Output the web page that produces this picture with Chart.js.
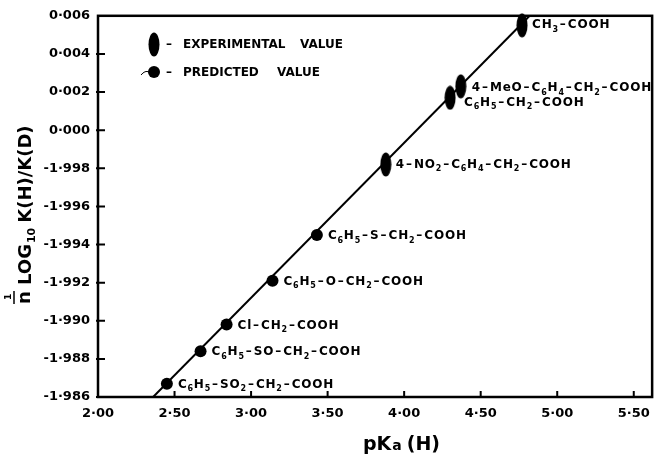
<!DOCTYPE html>
<html>
<head>
<meta charset="utf-8">
<script src="https://cdn.jsdelivr.net/npm/chart.js@4.4.1/dist/chart.umd.min.js"></script>
<style>
  body { margin: 0; background: #fff; }
  canvas { display: block; }
</style>
</head>
<body>
<canvas id="kie-chart" width="659" height="455"></canvas>
<script>
// acids whose ratio was predicted (filled circles)
const predictedAcids = ['C_6H_5-SO_2-CH_2-COOH', 'C_6H_5-SO-CH_2-COOH', 'Cl-CH_2-COOH',
  'C_6H_5-O-CH_2-COOH', 'C_6H_5-S-CH_2-COOH'];
const predictedPKa = [2.45, 2.67, 2.84, 3.14, 3.43];
const predictedLog = [-0.0133, -0.0116, -0.0102, -0.0079, -0.0055];

// acids measured experimentally (tall ellipses)
const experimentalAcids = ['4-NO_2-C_6H_4-CH_2-COOH', 'C_6H_5-CH_2-COOH',
  '4-MeO-C_6H_4-CH_2-COOH', 'CH_3-COOH'];
const experimentalPKa = [3.88, 4.30, 4.37, 4.77];
const experimentalLog = [-0.0018, 0.0017, 0.0023, 0.0055];

// fitted straight line, end points
const fitPKa = [2.36, 4.82];
const fitLog = [-0.014, 0.006];

const xTickValues = [2.0, 2.5, 3.0, 3.5, 4.0, 4.5, 5.0, 5.5];
const xTickLabels = ['2·00', '2·50', '3·00', '3·50', '4·00', '4·50', '5·00', '5·50'];
const yTickValues = [-0.014, -0.012, -0.010, -0.008, -0.006, -0.004, -0.002, 0.000, 0.002, 0.004, 0.006];
const yTickLabels = ['-1·986', '-1·988', '-1·990', '-1·992', '-1·994', '-1·996', '-1·998',
  '0·000', '0·002', '0·004', '0·006'];

const FONT = 'DejaVu Sans';

function makeEllipse(w, h) {
  const c = document.createElement('canvas');
  c.width = w;
  c.height = h;
  const g = c.getContext('2d');
  g.fillStyle = '#000';
  g.beginPath();
  g.ellipse(w / 2, h / 2, w / 2 - 0.5, h / 2 - 0.5, 0, 0, Math.PI * 2);
  g.fill();
  return c;
}
const ellipseImg = makeEllipse(12, 25);

// draws "C_6H_5-..." with subscripts, '-' as a spaced dash
function drawFormula(ctx, str, x, y, size) {
  let cx = x;
  for (let i = 0; i < str.length; i++) {
    let ch = str[i];
    let sub = false;
    if (ch === '_') { sub = true; ch = str[++i]; }
    if (ch === '-') {
      ctx.font = 'bold ' + size + 'px ' + FONT;
      cx += 1;
      ctx.fillText('\u2013', cx, y);
      cx += ctx.measureText('\u2013').width + 2;
      continue;
    }
    ctx.font = 'bold ' + (sub ? Math.round(size * 0.68) : size) + 'px ' + FONT;
    ctx.fillText(ch, cx, sub ? y + size * 0.38 : y);
    cx += ctx.measureText(ch).width + 0.8;
  }
}

const labelNudge = {
  'C_6H_5-CH_2-COOH': [14, 5],
  '4-MeO-C_6H_4-CH_2-COOH': [11, 2]
};

const paperPlugin = {
  id: 'paper',
  afterDatasetsDraw(chart) {
    const ctx = chart.ctx;
    const a = chart.chartArea;
    const xs = chart.scales.x;
    const ys = chart.scales.y;
    ctx.save();
    ctx.strokeStyle = '#000';
    ctx.fillStyle = '#000';

    // frame
    ctx.lineWidth = 2.5;
    ctx.strokeRect(a.left, a.top, a.right - a.left, a.bottom - a.top);

    // inward ticks
    ctx.lineWidth = 2;
    ctx.beginPath();
    xTickValues.forEach(function (v) {
      const px = xs.getPixelForValue(v);
      if (px - a.left < 3) return;
      ctx.moveTo(px, a.bottom);
      ctx.lineTo(px, a.bottom - 6);
    });
    yTickValues.forEach(function (v) {
      const py = ys.getPixelForValue(v);
      if (py - a.top < 3) return;
      ctx.moveTo(a.left - 2, py);
      ctx.lineTo(a.left + 7, py);
    });
    ctx.stroke();

    // compound labels
    ctx.textBaseline = 'middle';
    ctx.textAlign = 'left';
    const pm = chart.getDatasetMeta(1).data;
    predictedAcids.forEach(function (name, i) {
      drawFormula(ctx, name, pm[i].x + 11, pm[i].y + 1, 12);
    });
    const em = chart.getDatasetMeta(0).data;
    experimentalAcids.forEach(function (name, i) {
      const n = labelNudge[name] || [10, 0];
      drawFormula(ctx, name, em[i].x + n[0], em[i].y + n[1], 12);
    });

    // legend
    ctx.drawImage(ellipseImg, 148, 32);
    ctx.beginPath();
    ctx.arc(154, 72, 6, 0, Math.PI * 2);
    ctx.fill();
    ctx.lineWidth = 1;
    ctx.beginPath();
    ctx.moveTo(141, 75);
    ctx.quadraticCurveTo(145, 70, 149, 72);
    ctx.stroke();
    ctx.font = 'bold 12px ' + FONT;
    ctx.fillText('\u2013', 166, 45);
    ctx.fillText('\u2013', 166, 73);
    ctx.fillText('EXPERIMENTAL', 183, 45);
    ctx.fillText('VALUE', 300, 45);
    ctx.fillText('PREDICTED', 183, 73);
    ctx.fillText('VALUE', 277, 73);

    // x title
    ctx.textBaseline = 'alphabetic';
    ctx.font = 'bold 19px ' + FONT;
    ctx.fillText('pK', 363, 450);
    let tx = 363 + ctx.measureText('pK').width + 1;
    ctx.font = 'bold 14px ' + FONT;
    ctx.fillText('a', tx, 450);
    tx += ctx.measureText('a').width + 5;
    ctx.font = 'bold 19px ' + FONT;
    ctx.fillText('(H)', tx, 450);

    // y title, rotated
    ctx.translate(0, 307);
    ctx.rotate(-Math.PI / 2);
    ctx.font = 'bold 9px ' + FONT;
    ctx.fillText('1', 7, 11);
    ctx.lineWidth = 1.5;
    ctx.beginPath();
    ctx.moveTo(3, 14);
    ctx.lineTo(16, 14);
    ctx.stroke();
    ctx.font = 'bold 18px ' + FONT;
    ctx.fillText('n', 3, 30);
    ctx.fillText('LOG', 22, 31);
    let ty = 22 + ctx.measureText('LOG').width + 1;
    ctx.font = 'bold 11px ' + FONT;
    ctx.fillText('10', ty, 35);
    ty += ctx.measureText('10').width + 5;
    ctx.font = 'bold 18px ' + FONT;
    ctx.fillText('K(H)/K(D)', ty, 31);
    ctx.restore();
  }
};

const ctx = document.getElementById('kie-chart').getContext('2d');

new Chart(ctx, {
  type: 'scatter',
  data: {
    datasets: [
      {
        label: 'Experimental value',
        data: experimentalPKa.map(function (x, i) { return { x: x, y: experimentalLog[i] }; }),
        pointStyle: ellipseImg,
        clip: false,
        order: 1
      },
      {
        label: 'Predicted value',
        data: predictedPKa.map(function (x, i) { return { x: x, y: predictedLog[i] }; }),
        pointStyle: 'circle',
        pointRadius: 6,
        backgroundColor: '#000',
        borderColor: '#000',
        borderWidth: 0,
        clip: false,
        order: 1
      },
      {
        label: 'Fit',
        data: fitPKa.map(function (x, i) { return { x: x, y: fitLog[i] }; }),
        showLine: true,
        pointRadius: 0,
        borderColor: '#000',
        borderWidth: 2,
        order: 3
      }
    ]
  },
  options: {
    responsive: false,
    animation: false,
    layout: { padding: { top: 12, right: 4, left: 0, bottom: 0 } },
    plugins: { legend: { display: false }, tooltip: { enabled: false } },
    scales: {
      x: {
        type: 'linear',
        min: 2.0,
        max: 5.62,
        grid: { display: false, drawTicks: false },
        border: { display: false },
        afterBuildTicks: function (scale) {
          scale.ticks = xTickValues.map(function (v) { return { value: v }; });
        },
        afterFit: function (scale) { scale.height = 58; },
        ticks: {
          padding: 9,
          color: '#000',
          font: { family: FONT, size: 13, weight: 'bold' },
          maxRotation: 0,
          callback: function (v) { return xTickLabels[xTickValues.indexOf(v)]; }
        }
      },
      y: {
        type: 'linear',
        min: -0.014,
        max: 0.006,
        grid: { display: false, drawTicks: false },
        border: { display: false },
        afterBuildTicks: function (scale) {
          scale.ticks = yTickValues.map(function (v) { return { value: v }; });
        },
        afterFit: function (scale) { scale.width = 98; },
        ticks: {
          padding: 8,
          color: '#000',
          font: { family: FONT, size: 13, weight: 'bold' },
          callback: function (v) { return yTickLabels[yTickValues.indexOf(v)]; }
        }
      }
    }
  },
  plugins: [paperPlugin]
});
</script>
</body>
</html>
